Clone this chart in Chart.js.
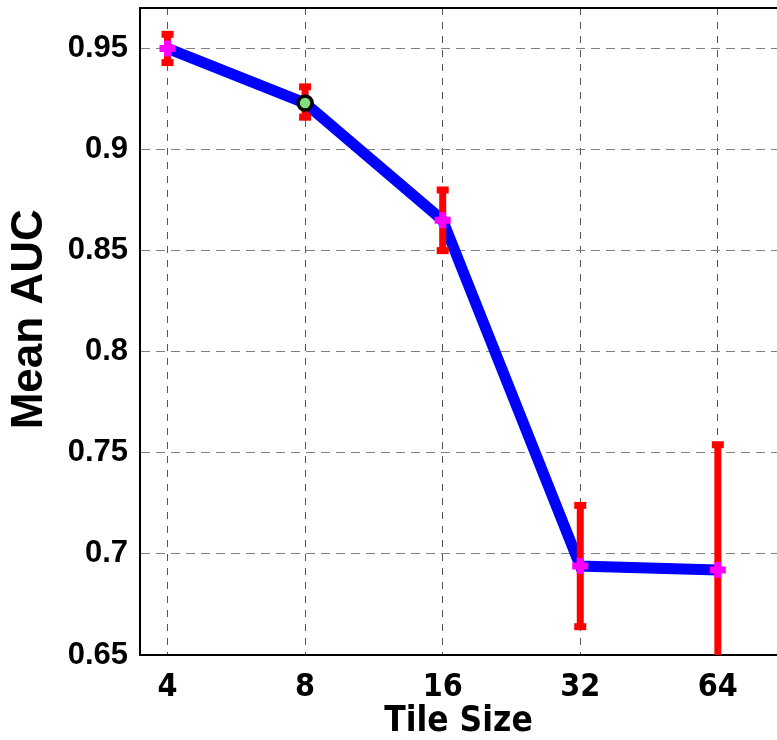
<!DOCTYPE html>
<html>
<head>
<meta charset="utf-8">
<script src="https://cdn.jsdelivr.net/npm/chart.js@4.4.0/dist/chart.umd.min.js"></script>
<style>
  html, body { margin: 0; padding: 0; background: #fff; }
  canvas { display: block; }
</style>
</head>
<body>
<canvas id="aucChart" width="777" height="740"></canvas>
<script>
// tile sizes on the x axis, one category per point
const tileSizes = ['4', '8', '16', '32', '64'];
// mean AUC per tile size
const meanAuc = [0.950, 0.923, 0.865, 0.694, 0.692];
// error bar ends
const errLow = [0.943, 0.916, 0.850, 0.664, 0.630];
const errHigh = [0.957, 0.931, 0.880, 0.724, 0.754];
// y axis tick values
const yTicks = [0.65, 0.7, 0.75, 0.8, 0.85, 0.9, 0.95];

const points = meanAuc.map((v, i) => ({ x: i + 1, y: v }));

// red error bars, drawn right after the blue line so the markers sit on top
const errorBars = {
  id: 'errorBars',
  afterDatasetDraw(chart, args) {
    if (args.index !== 1) return;
    const { ctx, chartArea } = chart;
    const xs = chart.scales.x, ys = chart.scales.y;
    ctx.save();
    ctx.beginPath();
    ctx.rect(chartArea.left, chartArea.top, chartArea.right - chartArea.left, chartArea.bottom - chartArea.top);
    ctx.clip();
    ctx.fillStyle = '#ff0000';
    for (let i = 0; i < meanAuc.length; i++) {
      const px = xs.getPixelForValue(i + 1);
      const top = ys.getPixelForValue(errHigh[i]);
      const bot = ys.getPixelForValue(errLow[i]);
      ctx.fillRect(px - 3.5, top, 7, bot - top);
      ctx.fillRect(px - 6, top - 3.5, 12, 7);
      ctx.fillRect(px - 6, bot - 3.5, 12, 7);
    }
    ctx.restore();
  }
};

// box line along the top of the plot area
const topBorder = {
  id: 'topBorder',
  afterDraw(chart) {
    const { ctx, chartArea } = chart;
    ctx.save();
    ctx.strokeStyle = '#000';
    ctx.lineWidth = 2;
    ctx.beginPath();
    ctx.moveTo(chartArea.left, chartArea.top);
    ctx.lineTo(chartArea.right, chartArea.top);
    ctx.stroke();
    ctx.restore();
  }
};

new Chart(document.getElementById('aucChart'), {
  type: 'scatter',
  data: {
    datasets: [
      {
        // markers
        data: points,
        showLine: false,
        pointStyle: meanAuc.map((v, i) => i === 1 ? 'circle' : 'cross'),
        pointRadius: meanAuc.map((v, i) => i === 1 ? 7 : 8),
        pointBorderWidth: meanAuc.map((v, i) => i === 1 ? 3.5 : 7),
        pointBorderColor: meanAuc.map((v, i) => i === 1 ? '#000000' : '#ff00ff'),
        pointBackgroundColor: meanAuc.map((v, i) => i === 1 ? '#80e080' : '#ff00ff'),
        clip: false
      },
      {
        // mean line
        data: points,
        showLine: true,
        borderColor: '#0000ff',
        borderWidth: 11,
        pointRadius: 0,
        fill: false
      }
    ]
  },
  plugins: [errorBars, topBorder],
  options: {
    responsive: false,
    animation: false,
    layout: { autoPadding: false, padding: { top: 8, right: 0, left: 0, bottom: 0 } },
    plugins: {
      legend: { display: false },
      tooltip: { enabled: false }
    },
    scales: {
      x: {
        type: 'linear',
        min: 0.8,
        max: 5.43,
        afterBuildTicks(scale) {
          scale.ticks = tileSizes.map((t, i) => ({ value: i + 1 }));
        },
        afterFit(scale) {
          scale.height = 85;
          scale.paddingLeft = 0;
          scale.paddingRight = 0;
        },
        ticks: {
          callback: (v) => tileSizes[v - 1],
          color: '#000',
          padding: 13,
          maxRotation: 0,
          font: { family: "'Liberation Sans Narrow', 'DejaVu Sans Condensed', sans-serif", weight: 'bold', size: 32 }
        },
        grid: { color: '#555', lineWidth: 1, drawTicks: false },
        border: { color: '#000', width: 2, dash: [7, 7] },
        title: {
          display: true,
          text: 'Tile Size',
          color: '#000',
          padding: 0,
          font: { family: "'Liberation Sans Narrow', 'DejaVu Sans Condensed', sans-serif", weight: 'bold', size: 35, lineHeight: 1.05 }
        }
      },
      y: {
        min: 0.65,
        max: 0.97,
        afterBuildTicks(scale) {
          scale.ticks = yTicks.map((v) => ({ value: v }));
        },
        afterFit(scale) {
          scale.width = 140;
          scale.paddingTop = 0;
          scale.paddingBottom = 0;
        },
        ticks: {
          callback: (v) => String(Number(v.toFixed(2))),
          color: '#000',
          padding: 12,
          font: { family: "'Liberation Sans', Arial, sans-serif", weight: 'bold', size: 31 }
        },
        grid: { color: '#808080', lineWidth: 1, drawTicks: false },
        border: { color: '#000', width: 2, dash: [9, 6] },
        title: {
          display: true,
          text: '  Mean AUC',
          color: '#000',
          padding: { top: 3, bottom: 0 },
          font: { family: "'Liberation Sans', Arial, sans-serif", weight: 'bold', size: 44, lineHeight: 1.2 }
        }
      }
    }
  }
});
</script>
</body>
</html>
